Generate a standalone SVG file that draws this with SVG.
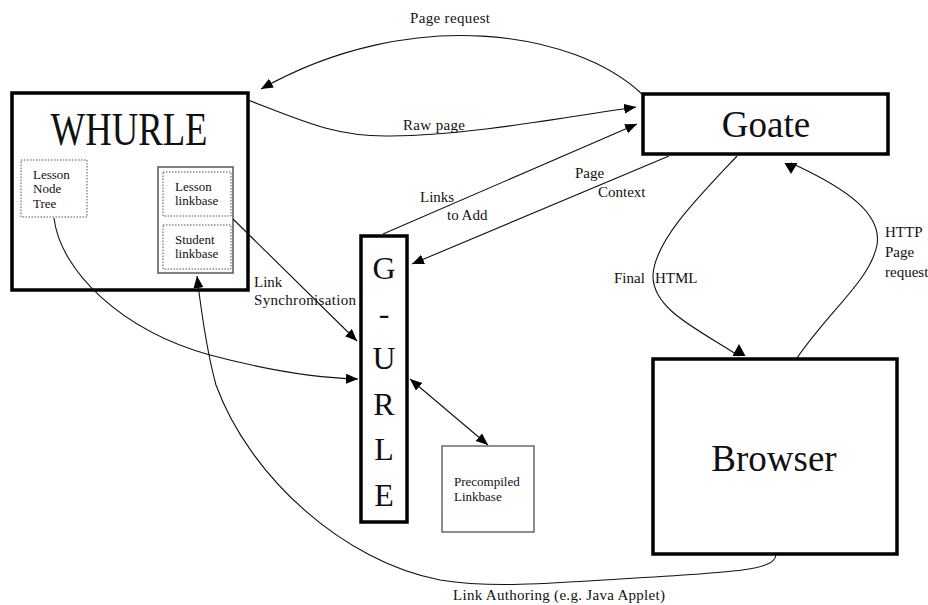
<svg xmlns="http://www.w3.org/2000/svg" width="928" height="605" viewBox="0 0 928 605" font-family="Liberation Serif, Times New Roman, serif">
<style>
  .big{fill:#fff;stroke:#000;stroke-width:3.5}
  .thin{fill:#fff;stroke:#444;stroke-width:1.2}
  .dot{fill:none;stroke:#555;stroke-width:1;stroke-dasharray:1.5 1.5}
  .c{fill:none;stroke:#111;stroke-width:1.1}
  text{font-family:"Liberation Serif", "Times New Roman", serif;fill:#111}
  .lbl{font-size:15px}
  .sm{font-size:13px}
  .title{font-size:37px;text-anchor:middle}
  .gl{font-size:32px;text-anchor:middle}
</style>
<defs>
  <marker id="a" markerUnits="userSpaceOnUse" markerWidth="13" markerHeight="11" refX="12" refY="5" orient="auto" viewBox="0 0 13 11">
    <path d="M0,0 L12,5 L0,10 z" fill="#000"/>
  </marker>
  <marker id="a2" markerUnits="userSpaceOnUse" markerWidth="13" markerHeight="11" refX="12" refY="5" orient="auto-start-reverse" viewBox="0 0 13 11">
    <path d="M0,0 L12,5 L0,10 z" fill="#000"/>
  </marker>
  <marker id="up" markerUnits="userSpaceOnUse" markerWidth="13" markerHeight="14" refX="0" refY="6.5" orient="270" viewBox="0 0 13 14">
    <path d="M0,0 L12,6.5 L0,13 z" fill="#000"/>
  </marker>
  <marker id="down" markerUnits="userSpaceOnUse" markerWidth="13" markerHeight="14" refX="0" refY="6.5" orient="90" viewBox="0 0 13 14">
    <path d="M0,0 L11,6.5 L0,13 z" fill="#000"/>
  </marker>
</defs>
<rect width="928" height="605" fill="#fff"/>

<g id="whurle">
  <rect class="big" x="12" y="93" width="236" height="197"/>
  <text x="129" y="145" font-size="46" text-anchor="middle" textLength="157" lengthAdjust="spacingAndGlyphs">WHURLE</text>
  <g id="lesson-node-tree">
    <rect class="dot" x="21" y="160" width="66" height="57"/>
    <text class="sm" x="33" y="179">Lesson</text>
    <text class="sm" x="33" y="193">Node</text>
    <text class="sm" x="33" y="208">Tree</text>
  </g>
  <g id="linkbases">
    <rect fill="#fff" stroke="#555" stroke-width="1.5" x="158" y="167" width="75" height="106"/>
    <g id="lesson-linkbase">
      <rect class="dot" x="163" y="172" width="68" height="44"/>
      <text class="sm" x="175" y="191">Lesson</text>
      <text class="sm" x="175" y="205">linkbase</text>
    </g>
    <g id="student-linkbase">
      <rect class="dot" x="163" y="225" width="68" height="44"/>
      <text class="sm" x="175" y="244">Student</text>
      <text class="sm" x="175" y="258">linkbase</text>
    </g>
  </g>
</g>

<g id="goate">
  <rect class="big" x="643" y="94" width="245" height="60"/>
  <text class="title" x="766" y="137">Goate</text>
</g>

<g id="gurle">
  <rect class="big" x="361" y="236" width="46" height="286"/>
  <text class="gl" x="384" y="279">G</text>
  <text class="gl" x="384" y="324">-</text>
  <text class="gl" x="384" y="369">U</text>
  <text class="gl" x="384" y="415">R</text>
  <text class="gl" x="384" y="460">L</text>
  <text class="gl" x="384" y="506">E</text>
</g>

<g id="precompiled-linkbase">
  <rect class="thin" x="442" y="446" width="92" height="86"/>
  <text class="sm" x="454" y="486">Precompiled</text>
  <text class="sm" x="454" y="501">Linkbase</text>
</g>

<g id="browser">
  <rect class="big" x="653" y="359" width="244" height="195"/>
  <text class="title" x="774" y="471">Browser</text>
</g>

<g id="connectors">
  <path class="c" d="M643,95 C 575,30 410,5 261,89" marker-end="url(#a)"/>
  <path class="c" d="M248,100 C 300,120 335,137 390,136 C 470,135 560,118 636,107" marker-end="url(#a)"/>
  <path class="c" d="M383,234 L637,124" marker-end="url(#a)"/>
  <path class="c" d="M669,156 L412,264" marker-end="url(#a)"/>
  <path class="c" d="M233,219 L357,341" marker-end="url(#a)"/>
  <path class="c" d="M54,218 C 60,270 120,330 210,355 C 270,371 320,378 358,379" marker-end="url(#a)"/>
  <path class="c" d="M776,555 C 774,570 740,572 620,579 C 540,584 490,588 440,580 C 345,562 250,478 216,385 C 205,345 200,300 197,276" marker-end="url(#a)"/>
  <path class="c" d="M410,379 L488,445" marker-start="url(#a2)" marker-end="url(#a2)"/>
  <path class="c" d="M737,156 C 700,195 655,240 653,275 C 652,310 700,330 739,356" marker-end="url(#up)"/>
  <path class="c" d="M797,358 C 830,310 870,280 877,245 C 882,215 850,190 791,163" marker-end="url(#down)"/>

  <text class="lbl" x="410" y="23" textLength="80">Page request</text>
  <text class="lbl" x="403" y="130" textLength="62">Raw page</text>
  <text class="lbl" x="420" y="202">Links</text>
  <text class="lbl" x="447" y="220">to Add</text>
  <text class="lbl" x="575" y="178">Page</text>
  <text class="lbl" x="598" y="197">Context</text>
  <text class="lbl" x="254" y="287">Link</text>
  <text class="lbl" x="254" y="305" textLength="102">Synchronisation</text>
  <text class="lbl" x="614" y="283">Final</text>
  <text class="lbl" x="655" y="283">HTML</text>
  <text class="lbl" x="885" y="237">HTTP</text>
  <text class="lbl" x="885" y="257">Page</text>
  <text class="lbl" x="885" y="277">request</text>
  <text class="lbl" x="453" y="600" textLength="212">Link Authoring (e.g. Java Applet)</text>
</g>
</svg>
